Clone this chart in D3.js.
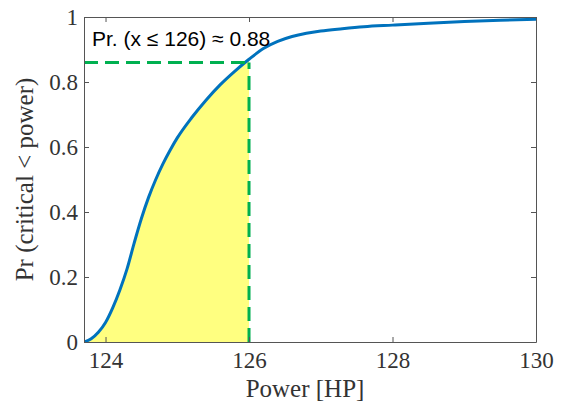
<!DOCTYPE html>
<html lang="en">
<head>
    <meta charset="utf-8">
    <title>Power CDF</title>
    <script type="text/javascript" src="https://cdn.jsdelivr.net/npm/d3@7"></script>
    <style>
        body { margin: 0; background: #fff; }
        .axis path, .axis line { stroke: #555; }
        .axis text { font-family: "Liberation Serif", serif; font-size: 23px; fill: #333; }
    </style>
</head>
<body>
<div id="chart"></div>
<script type="text/javascript">
    // values
    var power = [123.7, 123.8, 123.9, 124.0, 124.1, 124.2, 124.3, 124.4, 124.5, 124.6,
        124.7, 124.8, 124.9, 125.0, 125.2, 125.4, 125.6, 125.8, 126.0, 126.2,
        126.4, 126.6, 126.8, 127.0, 127.3, 127.6, 128.0, 128.5, 129.0, 129.5, 130];
    var prob = [0, 0.01, 0.03, 0.06, 0.105, 0.16, 0.225, 0.305, 0.38, 0.445,
        0.5, 0.548, 0.59, 0.628, 0.69, 0.744, 0.792, 0.833, 0.87, 0.903,
        0.925, 0.94, 0.95, 0.957, 0.964, 0.97, 0.975, 0.981, 0.986, 0.99, 0.993];
    var xTicks = [124, 126, 128, 130];
    var yTicks = [0, 0.2, 0.4, 0.6, 0.8, 1];
    var cutoff = 126;
    var cutoffLevel = 0.86;
    var note = "Pr. (x \u2264 126) \u2248 0.88";

    var w = 561;
    var h = 405;
    var margin = {top: 17, right: 25, bottom: 63, left: 84};

    var data = power.map(function (p, i) { return {x: p, y: prob[i]}; });

    var xScale = d3.scaleLinear().domain([123.7, 130]).range([margin.left, w - margin.right]);
    var yScale = d3.scaleLinear().domain([0, 1]).range([h - margin.bottom, margin.top]);

    var svg = d3.select("#chart").append("svg")
        .attr("width", w)
        .attr("height", h);

    svg.append("clipPath").attr("id", "clip")
        .append("rect")
        .attr("x", margin.left).attr("y", margin.top)
        .attr("width", w - margin.left - margin.right)
        .attr("height", h - margin.top - margin.bottom);

    var plot = svg.append("g").attr("clip-path", "url(#clip)");

    // shaded area up to the cutoff
    var area = d3.area()
        .x(function (d) { return xScale(d.x); })
        .y0(yScale(0))
        .y1(function (d) { return yScale(d.y); })
        .curve(d3.curveMonotoneX);

    plot.append("path")
        .datum(data.filter(function (d) { return d.x <= cutoff; }))
        .attr("d", area)
        .attr("fill", "#ffff80");

    var line = d3.line()
        .x(function (d) { return xScale(d.x); })
        .y(function (d) { return yScale(d.y); })
        .curve(d3.curveMonotoneX);

    plot.append("path")
        .datum(data)
        .attr("d", line)
        .attr("fill", "none")
        .attr("stroke", "#0072bd")
        .attr("stroke-width", 3);

    // dashed guide lines
    plot.append("line")
        .attr("x1", xScale(123.7)).attr("x2", xScale(cutoff))
        .attr("y1", yScale(cutoffLevel)).attr("y2", yScale(cutoffLevel))
        .attr("stroke", "#00b050").attr("stroke-width", 3)
        .attr("stroke-dasharray", "14,7");

    plot.append("line")
        .attr("x1", xScale(cutoff)).attr("x2", xScale(cutoff))
        .attr("y1", yScale(0)).attr("y2", yScale(cutoffLevel))
        .attr("stroke", "#00b050").attr("stroke-width", 3)
        .attr("stroke-dasharray", "14,7");

    // axes (ticks inward, box on)
    svg.append("g").attr("class", "axis")
        .attr("transform", "translate(0," + (h - margin.bottom) + ")")
        .call(d3.axisBottom(xScale).tickValues(xTicks).tickSizeInner(-5).tickSizeOuter(0).tickPadding(10)
            .tickFormat(d3.format("d")));

    svg.append("g").attr("class", "axis")
        .attr("transform", "translate(" + margin.left + ",0)")
        .call(d3.axisLeft(yScale).tickValues(yTicks).tickSizeInner(-5).tickSizeOuter(0).tickPadding(6)
            .tickFormat(function (d) { return d === 0 || d === 1 ? d : d.toFixed(1); }));

    svg.append("g").attr("class", "axis")
        .attr("transform", "translate(0," + margin.top + ")")
        .call(d3.axisTop(xScale).tickValues(xTicks).tickSizeInner(-5).tickSizeOuter(0).tickFormat(""));

    svg.append("g").attr("class", "axis")
        .attr("transform", "translate(" + (w - margin.right) + ",0)")
        .call(d3.axisRight(yScale).tickValues(yTicks).tickSizeInner(-5).tickSizeOuter(0).tickFormat(""));

    // labels
    svg.append("text")
        .attr("text-anchor", "middle")
        .attr("transform", "translate(" + 305 + "," + 397 + ")")
        .style("font-family", "Liberation Serif, serif")
        .style("font-size", "25px")
        .attr("fill", "#333")
        .text("Power [HP]");

    svg.append("text")
        .attr("text-anchor", "middle")
        .attr("transform", "translate(33," + ((margin.top + h - margin.bottom) / 2) + ")rotate(-90)")
        .style("font-family", "Liberation Serif, serif")
        .style("font-size", "25px")
        .attr("fill", "#333")
        .text("Pr (critical < power)");

    svg.append("text")
        .attr("x", 92)
        .attr("y", 45.5)
        .style("font-family", "Liberation Sans, Arial, sans-serif")
        .style("font-size", "21px")
        .attr("fill", "#000")
        .text(note);
</script>
</body>
</html>
